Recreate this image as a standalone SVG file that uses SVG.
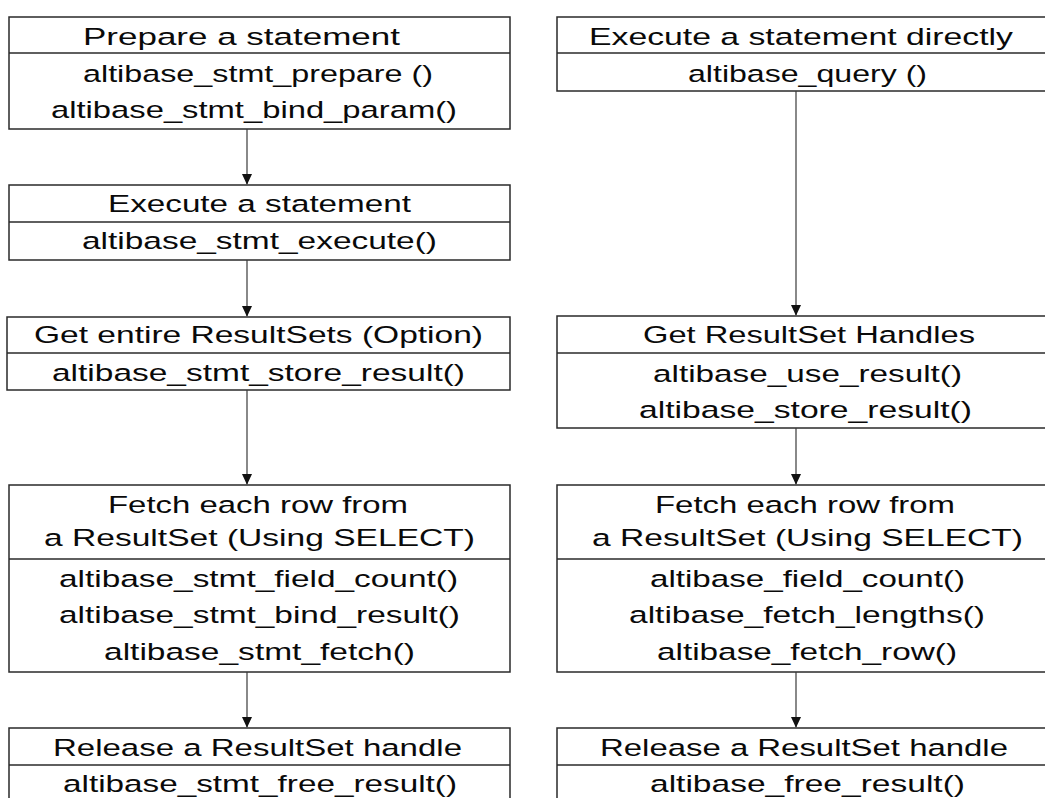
<svg xmlns="http://www.w3.org/2000/svg" width="1045" height="798" viewBox="0 0 1045 798">
  <defs>
    <marker id="arrow" markerWidth="11" markerHeight="14" refX="12" refY="6" orient="auto" markerUnits="userSpaceOnUse" viewBox="0 0 13 12">
      <path d="M0,0 L13,6 L0,12 Z" fill="#111"/>
    </marker>
    <style>
      .box { fill: #ffffff; stroke: #2a2a2a; stroke-width: 1.5; }
      .div { stroke: #2a2a2a; stroke-width: 1.5; }
      .lbl { font-family: "Liberation Sans", Arial, sans-serif; font-size: 24.5px; fill: #0a0a0a; }
      .edge { stroke: #3a3a3a; stroke-width: 1.2; fill: none; marker-end: url(#arrow); }
    </style>
  </defs>
  <rect width="1045" height="798" fill="#ffffff"/>

  <!-- left column: prepared statement flow -->
  <g id="prepare">
    <rect class="box" x="9" y="17" width="501" height="112"/>
    <line class="div" x1="9" y1="53" x2="510" y2="53"/>
    <text class="lbl" x="83" y="45" textLength="317" lengthAdjust="spacingAndGlyphs">Prepare a statement</text>
    <text class="lbl" x="83" y="82" textLength="350" lengthAdjust="spacingAndGlyphs">altibase_stmt_prepare ()</text>
    <text class="lbl" x="51" y="118" textLength="406" lengthAdjust="spacingAndGlyphs">altibase_stmt_bind_param()</text>
  </g>

  <g id="execute">
    <rect class="box" x="9" y="185" width="501" height="75"/>
    <line class="div" x1="9" y1="222" x2="510" y2="222"/>
    <text class="lbl" x="108" y="212" textLength="303" lengthAdjust="spacingAndGlyphs">Execute a statement</text>
    <text class="lbl" x="82" y="249" textLength="355" lengthAdjust="spacingAndGlyphs">altibase_stmt_execute()</text>
  </g>

  <g id="store-all">
    <rect class="box" x="7" y="317" width="503" height="73"/>
    <line class="div" x1="7" y1="353" x2="510" y2="353"/>
    <text class="lbl" x="34" y="343" textLength="449" lengthAdjust="spacingAndGlyphs">Get entire ResultSets (Option)</text>
    <text class="lbl" x="52" y="381" textLength="413" lengthAdjust="spacingAndGlyphs">altibase_stmt_store_result()</text>
  </g>

  <g id="stmt-fetch">
    <rect class="box" x="9" y="485" width="501" height="187"/>
    <line class="div" x1="9" y1="559" x2="510" y2="559"/>
    <text class="lbl" x="108" y="513" textLength="300" lengthAdjust="spacingAndGlyphs">Fetch each row from</text>
    <text class="lbl" x="44" y="546" textLength="431" lengthAdjust="spacingAndGlyphs">a ResultSet (Using SELECT)</text>
    <text class="lbl" x="59" y="587" textLength="399" lengthAdjust="spacingAndGlyphs">altibase_stmt_field_count()</text>
    <text class="lbl" x="59" y="623" textLength="401" lengthAdjust="spacingAndGlyphs">altibase_stmt_bind_result()</text>
    <text class="lbl" x="104" y="660" textLength="311" lengthAdjust="spacingAndGlyphs">altibase_stmt_fetch()</text>
  </g>

  <g id="stmt-release">
    <rect class="box" x="9" y="728" width="501" height="90"/>
    <line class="div" x1="9" y1="765" x2="510" y2="765"/>
    <text class="lbl" x="53" y="756" textLength="409" lengthAdjust="spacingAndGlyphs">Release a ResultSet handle</text>
    <text class="lbl" x="63" y="792" textLength="394" lengthAdjust="spacingAndGlyphs">altibase_stmt_free_result()</text>
  </g>

  <!-- right column: direct execution flow -->
  <g id="direct">
    <rect class="box" x="557" y="17" width="495" height="74"/>
    <line class="div" x1="557" y1="53" x2="1052" y2="53"/>
    <text class="lbl" x="589" y="45" textLength="424" lengthAdjust="spacingAndGlyphs">Execute a statement directly</text>
    <text class="lbl" x="688" y="82" textLength="239" lengthAdjust="spacingAndGlyphs">altibase_query ()</text>
  </g>

  <g id="handles">
    <rect class="box" x="557" y="316" width="495" height="112"/>
    <line class="div" x1="557" y1="353" x2="1052" y2="353"/>
    <text class="lbl" x="643" y="343" textLength="332" lengthAdjust="spacingAndGlyphs">Get ResultSet Handles</text>
    <text class="lbl" x="653" y="382" textLength="309" lengthAdjust="spacingAndGlyphs">altibase_use_result()</text>
    <text class="lbl" x="639" y="418" textLength="333" lengthAdjust="spacingAndGlyphs">altibase_store_result()</text>
  </g>

  <g id="row-fetch">
    <rect class="box" x="557" y="485" width="495" height="187"/>
    <line class="div" x1="557" y1="559" x2="1052" y2="559"/>
    <text class="lbl" x="655" y="513" textLength="300" lengthAdjust="spacingAndGlyphs">Fetch each row from</text>
    <text class="lbl" x="592" y="546" textLength="431" lengthAdjust="spacingAndGlyphs">a ResultSet (Using SELECT)</text>
    <text class="lbl" x="650" y="587" textLength="315" lengthAdjust="spacingAndGlyphs">altibase_field_count()</text>
    <text class="lbl" x="629" y="623" textLength="356" lengthAdjust="spacingAndGlyphs">altibase_fetch_lengths()</text>
    <text class="lbl" x="657" y="660" textLength="300" lengthAdjust="spacingAndGlyphs">altibase_fetch_row()</text>
  </g>

  <g id="row-release">
    <rect class="box" x="557" y="728" width="495" height="90"/>
    <line class="div" x1="557" y1="765" x2="1052" y2="765"/>
    <text class="lbl" x="600" y="756" textLength="408" lengthAdjust="spacingAndGlyphs">Release a ResultSet handle</text>
    <text class="lbl" x="650" y="792" textLength="315" lengthAdjust="spacingAndGlyphs">altibase_free_result()</text>
  </g>

  <!-- connectors -->
  <g id="connectors">
    <line class="edge" x1="247" y1="129" x2="247" y2="184"/>
    <line class="edge" x1="247" y1="260" x2="247" y2="316"/>
    <line class="edge" x1="247" y1="390" x2="247" y2="484"/>
    <line class="edge" x1="247" y1="672" x2="247" y2="727"/>
    <line class="edge" x1="796" y1="91" x2="796" y2="315"/>
    <line class="edge" x1="796" y1="428" x2="796" y2="484"/>
    <line class="edge" x1="796" y1="672" x2="796" y2="727"/>
  </g>
</svg>
